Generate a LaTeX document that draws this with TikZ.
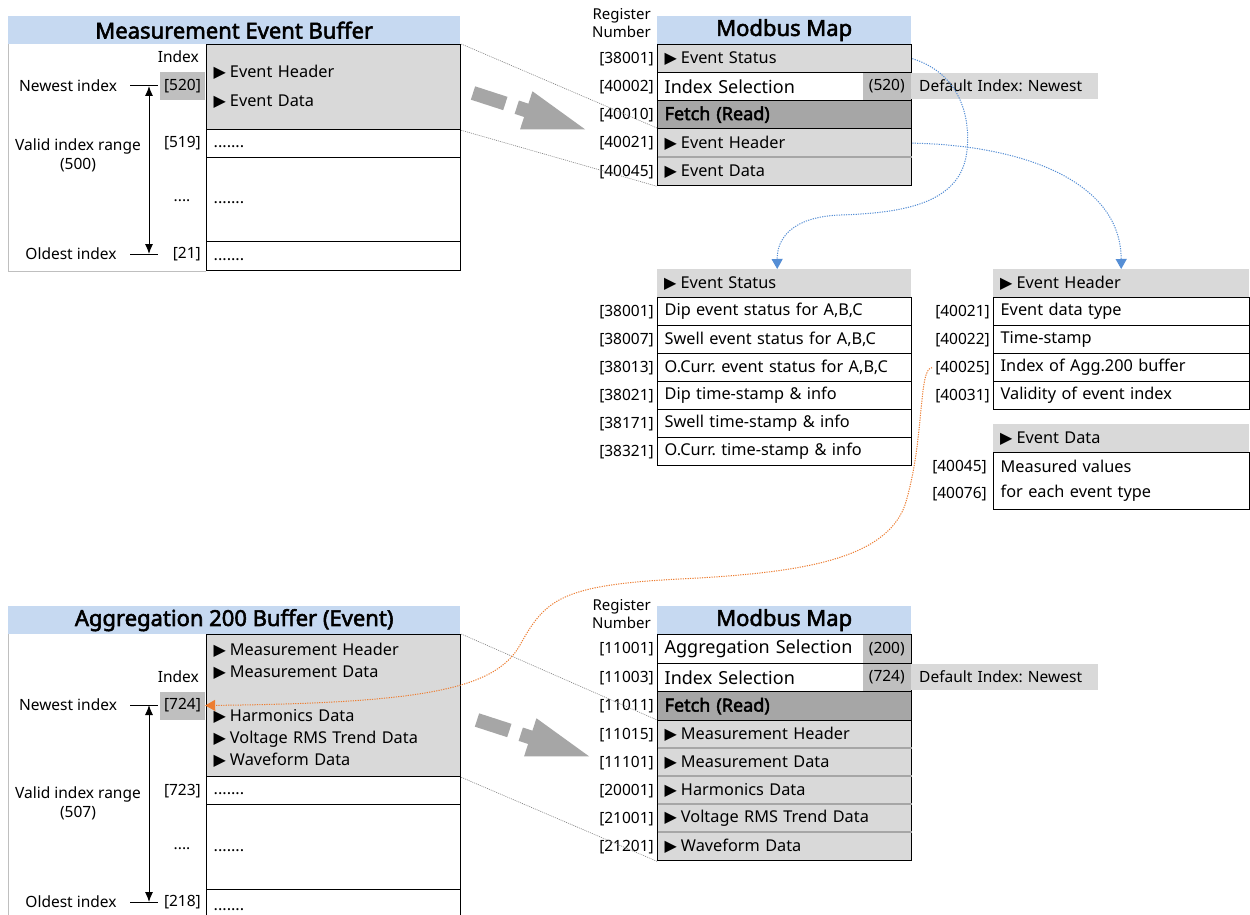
\documentclass[tikz,border=0pt]{standalone}
\usepackage{fontspec}
\setmainfont{Noto Sans}[BoldFont={Noto Sans}, BoldFeatures={FakeBold=2.5}]
\newfontfamily\symfont{DejaVu Sans}
\usetikzlibrary{arrows.meta,positioning}
\frenchspacing
\definecolor{titleblue}{RGB}{198,217,241}
\definecolor{cellgray}{RGB}{217,217,217}
\definecolor{idxgray}{RGB}{191,191,191}
\definecolor{fetchgray}{RGB}{166,166,166}
\definecolor{linkblue}{RGB}{85,142,213}
\definecolor{linkorange}{RGB}{237,125,49}
\newcommand{\tri}{{\symfont\fontsize{16}{16}\selectfont ▶}\hspace{4pt}}
\newcommand{\celldots}{\vphantom{Ag}.......}
\tikzset{
  titlebar/.style={fill=titleblue, anchor=north west, inner sep=0pt, minimum height=28pt, font=\fontsize{22}{24}\selectfont\bfseries},
  lbl/.style={inner sep=0pt, font=\fontsize{15.5}{19}\selectfont},
  reg/.style={lbl, inner xsep=3pt},
  bufcell/.style={draw, line width=1.3pt, anchor=north west, minimum width=254pt, text width=240pt, inner xsep=7pt, inner ysep=0pt, align=left, font=\fontsize{16.3}{29}\selectfont},
  mrow/.style={draw, line width=1.3pt, anchor=north west, minimum width=254pt, text width=240pt, inner xsep=7pt, inner ysep=0pt, align=left, font=\fontsize{16.3}{20}\selectfont},
  itemrow/.style={mrow, fill=cellgray},
  selrow/.style={mrow, font=\fontsize{18}{20}\selectfont},
  fetchrow/.style={selrow, fill=fetchgray, font=\fontsize{18}{20}\selectfont\bfseries},
  itemhd/.style={fill=cellgray, anchor=north west, minimum height=28pt, inner xsep=7pt, inner ysep=0pt, align=left, font=\fontsize{16.3}{20}\selectfont},
  valbox/.style={fill=idxgray, anchor=north east, minimum width=48pt, inner sep=0pt, font=\fontsize{15.5}{18}\selectfont},
  idxbox/.style={fill=idxgray, minimum width=45pt, minimum height=28pt, inner sep=0pt, font=\fontsize{15.5}{18}\selectfont},
  dflt/.style={fill=cellgray, anchor=west, minimum height=26pt, text width=171pt, inner xsep=8pt, inner ysep=0pt, align=left, font=\fontsize{15.5}{18}\selectfont},
  panelframe/.style={draw=idxgray, line width=0.8pt},
  sepline/.style={draw=fetchgray, line width=1.3pt},
  zoomline/.style={draw=gray, line width=0.6pt, dash pattern=on 1pt off 1pt},
  bigarrow/.style={fill=fetchgray},
  rangearrow/.style={line width=1pt, {Latex[length=10pt,width=8pt]}-{Latex[length=10pt,width=8pt]}},
  link/.style={line width=1pt, dash pattern=on 1.2pt off 1.2pt, -{Triangle[width=11pt,length=10pt]}},
}
\begin{document}
\begin{tikzpicture}[x=1pt,y=-1pt]
\useasboundingbox (0,0) rectangle (1250,915);
\fill[white] (0,0) rectangle (1250,915);

% measurement event buffer
\node[titlebar, minimum width=452pt] (meb-title) at (8,16) {Measurement Event Buffer};
\node[bufcell, fill=cellgray, minimum height=85pt] (meb-new) at (206,44) {\tri Event Header\\\tri Event Data};
\node[bufcell, minimum height=28pt] (meb-519) at (206,129) {\celldots};
\node[bufcell, minimum height=84pt] (meb-mid) at (206,157) {\celldots};
\node[bufcell, minimum height=29pt] (meb-21) at (206,241) {\celldots};
\draw[panelframe] (meb-title.south west) |- (meb-21.south west);
\node[lbl, anchor=east] (meb-idxhd) at (199,57) {Index};
\node[idxbox] (meb-i520) at (182.5,86) {[520]};
\node[lbl, anchor=east] (meb-l519) at (201,143) {[519]};
\node[lbl] (meb-ldots) at (182,201) {....};
\node[lbl, anchor=east] (meb-l21) at (201,254) {[21]};
\node[lbl] (meb-newest) at (68,86) {Newest index};
\node[lbl] (meb-oldest) at (71,254) {Oldest index};
\node[lbl, align=center] (meb-range) at (78,155) {Valid index range\\(500)};
\coordinate (meb-t1) at (130,86);
\coordinate (meb-t2) at (158,86);
\coordinate (meb-b1) at (130,254);
\coordinate (meb-b2) at (158,254);
\coordinate (meb-up) at (149,86);
\coordinate (meb-dn) at (149,254);
\draw[line width=1pt] (meb-t1) -- (meb-t2);
\draw[line width=1pt] (meb-b1) -- (meb-b2);
\draw[rangearrow] (meb-up) -- (meb-dn);

% modbus map (event)
\node[lbl, anchor=east, align=right, font=\fontsize{15}{18}\selectfont] (mm1-regno) at (651,23) {Register\\Number};
\node[titlebar, minimum width=254pt] (mm1-title) at (657,16) {Modbus Map};
\node[itemrow, minimum height=28pt, label={[reg]west:{[38001]}}] (mm1-stat) at (657,44) {\tri Event Status};
\node[valbox, minimum height=28pt] (mm1-v520) at (911,72) {(520)};
\node[selrow, minimum height=28pt, label={[reg]west:{[40002]}}] (mm1-idx) at (657,72) {Index Selection};
\node[fetchrow, minimum height=28pt, label={[reg]west:{[40010]}}] (mm1-fetch) at (657,100) {Fetch (Read)};
\node[itemrow, minimum height=29pt, label={[reg]west:{[40021]}}] (mm1-hdr) at (657,128) {\tri Event Header};
\node[itemrow, minimum height=28pt, label={[reg]west:{[40045]}}] (mm1-data) at (657,157) {\tri Event Data};
\draw[sepline] ([xshift=0.7pt]mm1-data.north west) -- ([xshift=-0.7pt]mm1-data.north east);
\node[dflt] (mm1-dflt) at (911,86) {Default Index: Newest};

\draw[zoomline] (meb-new.north east) -- (mm1-hdr.north west);
\draw[zoomline] (meb-new.south east) -- (mm1-data.south west);
\begin{scope}[shift={(473,93)}, rotate=-18]
\fill[bigarrow] (0,-7) rectangle (34,7);
\fill[bigarrow] (46,-7) -- (56,-7) -- (56,-20) -- (118,0) -- (56,20) -- (56,7) -- (46,7) -- cycle;
\end{scope}

% event status registers
\node[itemhd, text width=240pt] (es-hd) at (657,269) {\tri Event Status};
\node[mrow, minimum height=28pt, label={[reg]west:{[38001]}}] (es-dip) at (657,297) {Dip event status for A,B,C};
\node[mrow, minimum height=28pt, label={[reg]west:{[38007]}}] (es-swell) at (657,325) {Swell event status for A,B,C};
\node[mrow, minimum height=28pt, label={[reg]west:{[38013]}}] (es-ocurr) at (657,353) {O.Curr. event status for A,B,C};
\node[mrow, minimum height=28pt, label={[reg]west:{[38021]}}] (es-diptime) at (657,381) {Dip time-stamp \& info};
\node[mrow, minimum height=28pt, label={[reg]west:{[38171]}}] (es-swelltime) at (657,409) {Swell time-stamp \& info};
\node[mrow, minimum height=28pt, label={[reg]west:{[38321]}}] (es-ocurrtime) at (657,437) {O.Curr. time-stamp \& info};

% event header registers
\node[itemhd, text width=242pt] (eh-hd) at (993,269) {\tri Event Header};
\node[mrow, text width=242pt, minimum height=28pt, label={[reg]west:{[40021]}}] (eh-type) at (993,297) {Event data type};
\node[mrow, text width=242pt, minimum height=28pt, label={[reg]west:{[40022]}}] (eh-time) at (993,325) {Time-stamp};
\node[mrow, text width=242pt, minimum height=28pt, label={[reg, name=eh-l40025]west:{[40025]}}] (eh-aggidx) at (993,353) {Index of Agg.200 buffer};
\node[mrow, text width=242pt, minimum height=28pt, label={[reg]west:{[40031]}}] (eh-valid) at (993,381) {Validity of event index};
\node[itemhd, text width=242pt] (eh-dhd) at (993,424) {\tri Event Data};
\node[mrow, text width=242pt, minimum height=57pt, font=\fontsize{16.3}{25}\selectfont] (eh-vals) at (993,452) {Measured values\\for each event type};
\node[reg, anchor=east] (eh-l40045) at (990,467) {[40045]};
\node[reg, anchor=east] (eh-l40076) at (990,494) {[40076]};

% aggregation 200 buffer
\node[titlebar, minimum width=452pt] (ab-title) at (8,606) {Aggregation 200 Buffer (Event)};
\node[bufcell, fill=cellgray, minimum height=142pt, font=\fontsize{16.3}{22}\selectfont] (ab-new) at (206,634) {\tri Measurement Header\\\tri Measurement Data\\[22pt]\tri Harmonics Data\\\tri Voltage RMS Trend Data\\\tri Waveform Data};
\node[bufcell, minimum height=28pt] (ab-723) at (206,776) {\celldots};
\node[bufcell, minimum height=85pt] (ab-mid) at (206,804) {\celldots};
\node[bufcell, minimum height=34pt] (ab-218) at (206,889) {\celldots};
\draw[panelframe] (ab-title.south west) -- ++(0,300);
\node[lbl, anchor=east] (ab-idxhd) at (199,677) {Index};
\node[idxbox] (ab-i724) at (182.5,705.5) {[724]};
\node[lbl, anchor=east] (ab-l723) at (201,791) {[723]};
\node[lbl] (ab-ldots) at (182,849) {....};
\node[lbl, anchor=east] (ab-l218) at (201,902) {[218]};
\node[lbl] (ab-newest) at (68,705) {Newest index};
\node[lbl] (ab-oldest) at (71,902) {Oldest index};
\node[lbl, align=center] (ab-range) at (78,803) {Valid index range\\(507)};
\coordinate (ab-t1) at (130,705);
\coordinate (ab-t2) at (158,705);
\coordinate (ab-b1) at (130,902);
\coordinate (ab-b2) at (158,902);
\coordinate (ab-up) at (149,705);
\coordinate (ab-dn) at (149,902);
\draw[line width=1pt] (ab-t1) -- (ab-t2);
\draw[line width=1pt] (ab-b1) -- (ab-b2);
\draw[rangearrow] (ab-up) -- (ab-dn);

% modbus map (aggregation)
\node[lbl, anchor=east, align=right, font=\fontsize{15}{18}\selectfont] (mm2-regno) at (651,614) {Register\\Number};
\node[titlebar, minimum width=254pt] (mm2-title) at (657,606) {Modbus Map};
\node[valbox, minimum height=29pt] (mm2-v200) at (911,634) {(200)};
\node[selrow, minimum height=29pt, label={[reg]west:{[11001]}}] (mm2-agg) at (657,634) {Aggregation Selection};
\node[valbox, minimum height=28pt] (mm2-v724) at (911,663) {(724)};
\node[selrow, minimum height=28pt, label={[reg]west:{[11003]}}] (mm2-idx) at (657,663) {Index Selection};
\node[fetchrow, minimum height=29pt, label={[reg]west:{[11011]}}] (mm2-fetch) at (657,691) {Fetch (Read)};
\node[itemrow, minimum height=28pt, label={[reg]west:{[11015]}}] (mm2-mhdr) at (657,720) {\tri Measurement Header};
\node[itemrow, minimum height=28pt, label={[reg]west:{[11101]}}] (mm2-mdata) at (657,748) {\tri Measurement Data};
\node[itemrow, minimum height=28pt, label={[reg]west:{[20001]}}] (mm2-harm) at (657,776) {\tri Harmonics Data};
\node[itemrow, minimum height=28pt, label={[reg]west:{[21001]}}] (mm2-rms) at (657,804) {\tri Voltage RMS Trend Data};
\node[itemrow, minimum height=28pt, label={[reg]west:{[21201]}}] (mm2-wave) at (657,832) {\tri Waveform Data};
\draw[sepline] ([xshift=0.7pt]mm2-mdata.north west) -- ([xshift=-0.7pt]mm2-mdata.north east);
\draw[sepline] ([xshift=0.7pt]mm2-harm.north west) -- ([xshift=-0.7pt]mm2-harm.north east);
\draw[sepline] ([xshift=0.7pt]mm2-rms.north west) -- ([xshift=-0.7pt]mm2-rms.north east);
\draw[sepline] ([xshift=0.7pt]mm2-wave.north west) -- ([xshift=-0.7pt]mm2-wave.north east);
\node[dflt] (mm2-dflt) at (911,677) {Default Index: Newest};

\draw[zoomline] (ab-new.north east) -- (mm2-mhdr.north west);
\draw[zoomline] (ab-new.south east) -- (mm2-wave.south west);
\begin{scope}[shift={(477,720)}, rotate=-18]
\fill[bigarrow] (0,-7) rectangle (34,7);
\fill[bigarrow] (46,-7) -- (56,-7) -- (56,-20) -- (118,0) -- (56,20) -- (56,7) -- (46,7) -- cycle;
\end{scope}

% links
\draw[link, linkblue] (mm1-stat.east) .. controls (965,75) and (970,125) .. (967,150)
  .. controls (962,205) and (900,213) .. (840,215)
  .. controls (790,217) and (777,240) .. ([xshift=-7pt]es-hd.north);
\draw[link, linkblue] (mm1-hdr.east) .. controls (1020,145) and (1121,180) .. (eh-hd.north);
\draw[link, linkorange] (eh-l40025.west) .. controls (918,368) and (925,440) .. (905,505)
  .. controls (885,560) and (800,573) .. (680,579)
  .. controls (560,585) and (545,600) .. (520,645)
  .. controls (495,690) and (420,703) .. (ab-i724.east);
\end{tikzpicture}
\end{document}
